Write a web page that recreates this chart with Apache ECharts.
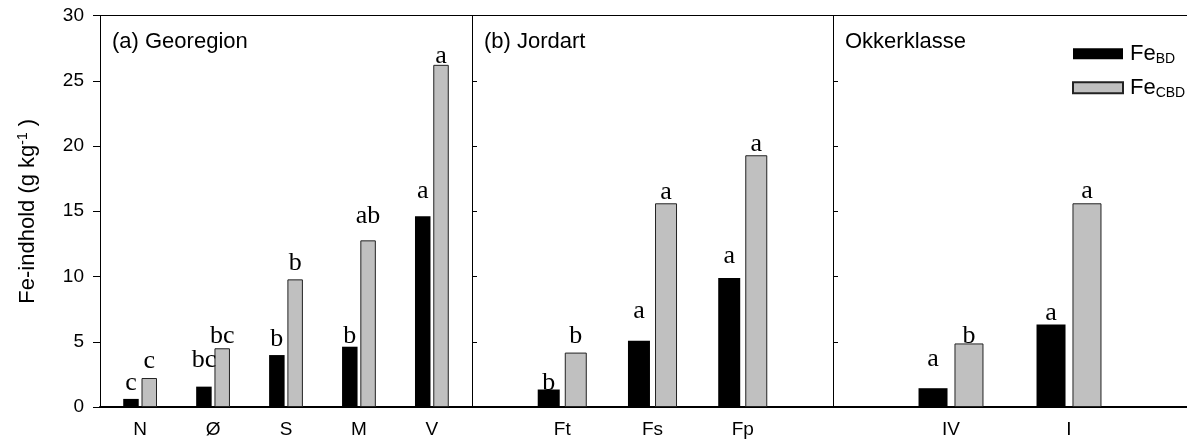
<!DOCTYPE html>
<html>
<head>
<meta charset="utf-8">
<script src="https://cdn.jsdelivr.net/npm/echarts@6/dist/echarts.min.js"></script>
<style>html,body{margin:0;padding:0;background:#fff;}#c{width:1187px;height:445px;}</style>
</head>
<body>
<div id="c"></div>
<script>
// ---- data ----
const catsA = ['N', 'Ø', 'S', 'M', 'V'];
const bdA = [0.62, 1.56, 3.98, 4.62, 14.61];
const cbdA = [2.22, 4.5, 9.78, 12.77, 26.22];
const lettersBdA = ['c', 'bc', 'b', 'b', 'a'];
const lettersCbdA = ['c', 'bc', 'b', 'ab', 'a'];

const catsB = ['Ft', 'Fs', 'Fp'];
const bdB = [1.34, 5.07, 9.88];
const cbdB = [4.17, 15.61, 19.29];
const lettersBdB = ['b', 'a', 'a'];
const lettersCbdB = ['b', 'a', 'a'];

const catsC = ['IV', 'I'];
const bdC = [1.44, 6.32];
const cbdC = [4.87, 15.61];
const lettersBdC = ['a', 'a'];
const lettersCbdC = ['b', 'a'];

const yTickStep = 5;
const panelTitles = ['(a) Georegion', '(b) Jordart', 'Okkerklasse'];

// ---- label placement (style) : gap between letter baseline and bar top ----
const gapBdA = [8, 19, 8.3, 3.4, 17.3];
const gapCbdA = [9.7, 5, 8.6, 17, 1];
const gapBdB = [-0.7, 21.7, 14.7];
const gapCbdB = [9, 3.3, 3.6];
const gapBdC = [21.3, 4.3];
const gapCbdC = [0, 4.3];

const SANS = 'Liberation Sans';
const SERIF = 'Liberation Serif';
const LETTER_SIZE = 26;
const BASE_SHIFT = 5.5;

const panels = [
  {cats: catsA, bd: bdA, cbd: cbdA, lBd: lettersBdA, lCbd: lettersCbdA, gBd: gapBdA, gCbd: gapCbdA,
   x0: 0, min: -0.55, max: 4.55, grid: {left: 100, width: 372}, barWidth: 15.5, barGap: '18%'},
  {cats: catsB, bd: bdB, cbd: cbdB, lBd: lettersBdB, lCbd: lettersCbdB, gBd: gapBdB, gCbd: gapCbdB,
   x0: 1, min: 0, max: 4, grid: {left: 472, width: 361}, barWidth: 22, barGap: '23%'},
  {cats: catsC, bd: bdC, cbd: cbdC, lBd: lettersBdC, lCbd: lettersCbdC, gBd: gapBdC, gCbd: gapCbdC,
   x0: 1, min: 0, max: 3, grid: {left: 833, width: 360}, barWidth: 29, barGap: '24%'}
];

const grids = [], xAxes = [], yAxes = [], series = [], titles = [];
panels.forEach((p, i) => {
  grids.push({left: p.grid.left, width: p.grid.width, top: 15.5, bottom: 38, containLabel: false});
  const xs = p.cats.map((_, k) => k + p.x0);
  // bottom axis with category labels
  xAxes.push({
    type: 'value', gridIndex: i, position: 'bottom', min: p.min, max: p.max,
    splitLine: {show: false},
    axisLine: {show: true, onZero: false, lineStyle: {color: '#000', width: 2}},
    axisTick: {show: false},
    axisLabel: {
      show: true, customValues: xs, margin: 13,
      formatter: v => p.cats[Math.round(v) - p.x0] || '',
      fontFamily: SANS, fontSize: 19, color: '#000'
    }
  });
  // top frame line
  xAxes.push({
    type: 'value', gridIndex: i, position: 'top', min: p.min, max: p.max,
    splitLine: {show: false},
    axisLine: {show: true, onZero: false, lineStyle: {color: '#000', width: 1}},
    axisTick: {show: false}, axisLabel: {show: false}
  });
  yAxes.push({
    type: 'value', gridIndex: i, min: 0, max: 30, interval: yTickStep, position: 'left',
    splitLine: {show: false},
    axisLine: {show: true, onZero: false, lineStyle: {color: '#000', width: 1}},
    axisTick: {show: true, inside: i > 0, length: i > 0 ? 5 : 7, lineStyle: {color: '#000', width: 1}},
    axisLabel: {show: i === 0, margin: 16, fontFamily: SANS, fontSize: 19, color: '#000'},
    name: i === 0 ? '{t|Fe-indhold (g kg}{sup|-1}{t| )}' : '',
    nameLocation: 'middle', nameGap: 60, nameRotate: 90,
    nameTextStyle: {
      rich: {
        t: {fontFamily: SANS, fontSize: 22, color: '#000', lineHeight: 24},
        sup: {fontFamily: SANS, fontSize: 14, color: '#000', lineHeight: 10, verticalAlign: 'top'}
      }
    }
  });
  const mk = (vals, letters, gaps) => vals.map((v, k) => ({
    value: [xs[k], v],
    label: {distance: gaps[k] - BASE_SHIFT}
  }));
  const lab = letters => ({
    show: true, position: 'top',
    formatter: prm => letters[prm.dataIndex],
    fontFamily: SERIF, fontSize: LETTER_SIZE, color: '#000'
  });
  series.push({
    name: 'FeBD', type: 'bar', xAxisIndex: 2 * i, yAxisIndex: i,
    barWidth: p.barWidth, barGap: p.barGap,
    itemStyle: {color: '#000'},
    label: lab(p.lBd),
    data: mk(p.bd, p.lBd, p.gBd)
  });
  series.push({
    name: 'FeCBD', type: 'bar', xAxisIndex: 2 * i, yAxisIndex: i,
    barWidth: p.barWidth, barGap: p.barGap,
    itemStyle: {color: '#c0c0c0', borderColor: '#222', borderWidth: 1},
    label: lab(p.lCbd),
    data: mk(p.cbd, p.lCbd, p.gCbd)
  });
  titles.push({
    text: panelTitles[i], left: p.grid.left + 12, top: 31, padding: 0,
    textStyle: {fontFamily: SANS, fontSize: 22, fontWeight: 'normal', color: '#000'}
  });
});

const chart = echarts.init(document.getElementById('c'), null, {renderer: 'canvas'});
chart.setOption({
  animation: false,
  backgroundColor: '#fff',
  title: titles,
  legend: {
    data: ['FeBD', 'FeCBD'], orient: 'vertical', left: 1067, top: 37.7,
    itemWidth: 50, itemHeight: 11, itemGap: 11, icon: 'rect',
    formatter: n => n === 'FeBD' ? '{fe|Fe}{sub|BD}' : '{fe|Fe}{sub|CBD}',
    textStyle: {
      rich: {
        fe: {fontFamily: SANS, fontSize: 22, color: '#000', lineHeight: 24, padding: [0, 0, 0, 2]},
        sub: {fontFamily: SANS, fontSize: 14, color: '#000', lineHeight: 10, verticalAlign: 'bottom'}
      }
    }
  },
  grid: grids,
  xAxis: xAxes,
  yAxis: yAxes,
  series: series
});
</script>
</body>
</html>
